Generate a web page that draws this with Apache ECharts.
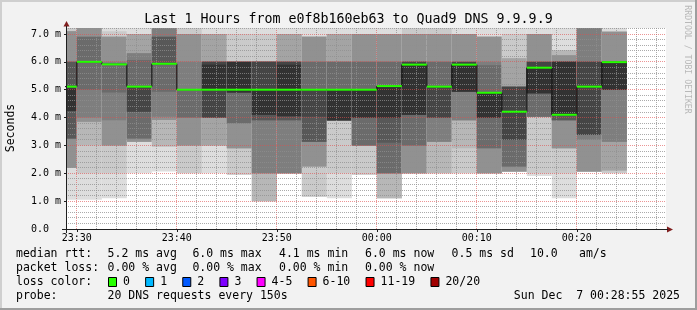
<!DOCTYPE html>
<html><head><meta charset="utf-8">
<script src="https://cdn.jsdelivr.net/npm/echarts@6/dist/echarts.min.js"></script>
<style>html,body{margin:0;padding:0;background:#f2f2f2}#c{width:697px;height:310px}</style>
</head><body><div id="c"></div>
<script>
// ---------------- data ----------------
const chartTitle = 'Last 1 Hours from e0f8b160eb63 to Quad9 DNS 9.9.9.9';
const viewStart = '23:28:55';
const viewEnd = '00:28:55';
const stepSeconds = 150;
const stepEnds = ['23:30:00','23:32:30','23:35:00','23:37:30','23:40:00','23:42:30','23:45:00','23:47:30',
  '23:50:00','23:52:30','23:55:00','23:57:30','00:00:00','00:02:30','00:05:00','00:07:30','00:10:00',
  '00:12:30','00:15:00','00:17:30','00:20:00','00:22:30','00:25:00'];
// median RTT per step (ms)
const medianRtt = [5.11, 6.0, 5.91, 5.11, 5.93, 5.0, 5.0, 5.0, 5.0, 5.0, 5.0, 5.0, 5.0,
  5.13, 5.9, 5.11, 5.9, 4.89, 4.21, 5.79, 4.10, 5.11, 5.99];
// packet loss per step (count of 20)
const stepLoss = [0,0,0,0,0,0,0,0,0,0,0,0,0,0,0,0,0,0,0,0,0,0,0];
// 20 sorted ping times per step (ms)
const stepPings = [
  [1.05,2.2,2.2,2.2,2.2,3.25,3.25,3.25,4.24,4.24,5.05,5.05,6.0,6.0,6.0,7.1,7.1,7.1,7.3,7.3],
  [1.05,2.0,3.0,3.85,3.85,4.0,5.0,6.0,6.0,6.0,6.0,6.0,6.0,6.9,6.9,7.3,7.3,7.3,7.3,7.3],
  [1.1,2.0,3.0,3.0,3.0,3.9,4.9,5.91,5.91,5.91,5.91,5.91,5.91,5.95,6.0,6.9,6.9,6.9,7.1,7.3],
  [2.0,3.13,3.13,3.13,3.13,3.25,3.25,4.21,4.21,5.11,5.11,5.11,5.11,6.07,6.31,6.31,7.0,7.0,7.0,7.3],
  [2.06,2.96,2.96,3.91,3.91,4.03,4.93,5.92,5.92,5.92,5.92,5.92,6.9,6.9,7.3,7.3,7.3,7.3,7.3,7.3],
  [2.0,2.0,3.0,3.0,3.0,4.0,4.0,5.0,5.0,5.0,5.0,5.0,5.0,5.0,6.0,7.0,7.0,7.0,7.3,7.3],
  [2.0,3.0,3.0,3.0,4.0,4.0,4.0,4.0,4.0,5.0,5.9,6.0,6.0,6.0,6.0,6.0,7.0,7.0,7.0,7.3],
  [1.95,1.95,2.9,2.9,2.9,3.8,3.8,4.9,4.9,4.9,6.0,6.0,6.0,6.0,6.0,6.0,6.0,6.0,7.0,7.3],
  [1.0,1.0,1.0,2.0,2.0,2.0,3.9,3.9,4.1,4.1,5.0,6.0,6.0,6.0,6.0,6.0,6.0,6.0,7.0,7.3],
  [2.0,2.0,2.0,2.0,2.0,2.0,3.9,3.9,4.05,4.05,5.9,6.0,6.0,6.0,6.0,6.0,7.0,7.0,7.0,7.3],
  [1.16,1.16,2.24,2.24,2.24,3.13,3.13,3.13,4.03,5.0,5.0,5.0,5.0,6.0,6.0,6.9,6.9,6.9,6.9,7.3],
  [1.1,2.0,3.9,3.9,3.9,3.9,3.9,3.9,3.9,3.9,5.0,5.0,5.0,6.0,6.0,6.0,7.0,7.0,7.0,7.3],
  [1.95,1.95,3.0,3.0,3.0,3.0,3.0,4.0,4.0,4.0,5.0,5.0,5.0,6.0,6.0,7.0,7.0,7.0,7.0,7.3],
  [1.1,1.1,1.1,2.0,2.0,2.0,2.0,3.1,4.0,4.0,5.13,5.13,5.13,6.0,6.0,7.0,7.0,7.0,7.0,7.3],
  [2.0,2.0,2.0,2.0,2.0,3.0,3.0,4.1,4.1,4.1,5.9,6.0,6.0,6.0,6.0,7.0,7.0,7.0,7.3,7.3],
  [2.0,2.0,2.0,3.13,3.13,3.13,4.0,4.0,4.0,5.1,5.1,5.1,5.1,6.0,6.0,7.0,7.0,7.0,7.3,7.3],
  [2.0,2.0,2.9,3.9,3.9,3.9,4.93,4.93,4.93,4.93,5.9,6.0,6.0,6.0,6.0,7.0,7.0,7.0,7.0,7.3],
  [2.0,2.0,2.0,2.0,2.0,2.9,2.9,4.0,4.0,4.0,4.89,4.89,4.89,5.88,6.0,6.9,6.9,6.9,6.9,7.3],
  [2.06,2.06,2.06,2.06,2.06,2.24,2.24,3.2,3.2,4.21,4.21,5.11,5.11,5.11,5.11,5.11,6.13,6.13,7.0,7.3],
  [1.9,2.0,4.03,4.03,4.03,4.03,4.03,4.87,4.87,4.87,5.8,6.0,6.0,6.0,6.0,7.0,7.0,7.0,7.0,7.3],
  [1.1,2.0,2.9,2.9,2.9,3.9,3.9,3.9,4.08,4.08,6.0,6.0,6.0,6.0,6.0,6.24,6.24,6.42,6.42,7.3],
  [2.06,2.06,2.06,2.06,2.06,3.2,3.37,3.37,3.37,5.1,5.1,6.0,6.0,6.0,7.3,7.3,7.3,7.3,7.3,7.3],
  [2.0,2.0,2.1,2.1,3.13,3.13,5.0,5.0,5.0,5.0,5.99,6.0,6.0,6.0,6.0,7.08,7.08,7.08,7.08,7.3]
];
const xTickLabels = ['23:30','23:40','23:50','00:00','00:10','00:20'];
const yTickValues = [0,1,2,3,4,5,6,7];
const yMax = 7.215;
const rttStatNames = ['avg','max','min','now'];
const rttStatValues = [5.2, 6.0, 4.1, 6.0];
const rttSd = 0.5;
const rttAms = 10.0;
const lossStatValues = [0.00, 0.00, 0.00, 0.00];
const lossLabels = ['0','1','2','3','4-5','6-10','11-19','20/20'];
const lossColors = ['#26ff00','#00b8ff','#0059ff','#7e00ff','#ff00ff','#ff5500','#ff0000','#a10000'];
const probeText = '20 DNS requests every 150s';
const dateText = 'Sun Dec  7 00:28:55 2025';

// ---------------- helpers ----------------
function toSec(s){ const p=s.split(':').map(Number); let t=p[0]*3600+p[1]*60+(p[2]||0); if(p[0]>=12) t-=86400; return t; }
function fmtTime(v){ let t=((v%86400)+86400)%86400; const h=Math.floor(t/3600), m=Math.floor((t%3600)/60); return String(h).padStart(2,'0')+':'+String(m).padStart(2,'0'); }
const xMin = toSec(viewStart), xMax = toSec(viewEnd);
const xTickValues = xTickLabels.map(toSec);
const MONO = '"DejaVu Sans Mono", monospace';

const smokeData = stepEnds.map((e,i)=>{ const end=toSec(e); return [end-stepSeconds, end].concat(stepPings[i]); });
const medianLine = [];
stepEnds.forEach((e,i)=>{ const end=toSec(e); medianLine.push([end-stepSeconds, medianRtt[i]]); medianLine.push([end, medianRtt[i]]); });
const medianSegs = stepEnds.map((e,i)=>{ const end=toSec(e); return [end-stepSeconds, end, medianRtt[i], stepLoss[i]]; });

// grid lines: [orientation(0=vertical,1=horizontal), value, major]
const gridData = [];
for (let t = xTickValues[0]; t < xMax; t += 120) gridData.push([0, t, xTickValues.includes(t) ? 1 : 0]);
for (let k = 1; k * 0.2 <= yMax; k++) { const v = +(k*0.2).toFixed(1); gridData.push([1, v, Number.isInteger(v) ? 1 : 0]); }

function smokeGray(k){ const c = Math.floor(190/10*(10-k))+50; const h=c.toString(16).padStart(2,'0'); return '#'+h+h+h; }

const chart = echarts.init(document.getElementById('c'), null, {renderer:'canvas'});

// legend graphics
const cw = 11.5*0.6035;
const g = [];
function txt(x,y,s,extra){ g.push(Object.assign({type:'text', x, y, silent:true, style:{text:s, x:0, y:0, fill:'#000', font:'11.5px '+MONO, align:'left', verticalAlign:'middle'}}, extra||{})); }
const statX = [107.6, 192.4, 279, 365];
txt(16, 254, 'median rtt:');
rttStatValues.forEach((v,i)=>txt(statX[i], 254, v.toFixed(1)+' ms '+rttStatNames[i]));
txt(451.6, 254, rttSd.toFixed(1)+' ms sd');
txt(530, 254, rttAms.toFixed(1));
txt(579, 254, 'am/s');
txt(16, 268, 'packet loss:');
lossStatValues.forEach((v,i)=>txt(statX[i], 268, v.toFixed(2)+' % '+rttStatNames[i]));
txt(16, 282, 'loss color:');
let lx = 108;
lossLabels.forEach((l,i)=>{
  g.push({type:'rect', silent:true, shape:{x:lx+0.5, y:277.5, width:8, height:9}, style:{fill:lossColors[i], stroke:'#000', lineWidth:1}});
  txt(lx+15, 282, l);
  lx += 15 + l.length*cw + 15.2;
});
txt(16, 296, 'probe:');
txt(107.6, 296, probeText);
g.push({type:'text', x:680, y:296, silent:true, style:{text:dateText, fill:'#000', font:'11.5px '+MONO, align:'right', verticalAlign:'middle'}});
// axis name & watermark
g.push({type:'text', x:11, y:128, rotation:Math.PI/2, silent:true, style:{text:'Seconds', fill:'#000', font:'11.5px '+MONO, align:'center', verticalAlign:'middle'}});
g.push({type:'text', x:687.5, y:59.5, rotation:-Math.PI/2, silent:true, style:{text:'RRDTOOL / TOBI OETIKER', fill:'#b8b8b8', font:'8.2px '+MONO, align:'center', verticalAlign:'middle'}});
// arrows
g.push({type:'polygon', silent:true, z:20, shape:{points:[[63.5,26.5],[69.5,26.5],[66.5,21]]}, style:{fill:'#801f1f'}});
g.push({type:'polygon', silent:true, z:20, shape:{points:[[667,226.5],[667,232.5],[673,229.5]]}, style:{fill:'#801f1f'}});
g.push({type:'line', silent:true, z:20, shape:{x1:66.5, y1:26, x2:66.5, y2:233}, style:{stroke:'#1f1f1f', lineWidth:1}});
g.push({type:'line', silent:true, z:20, shape:{x1:62, y1:229.5, x2:668, y2:229.5}, style:{stroke:'#1f1f1f', lineWidth:1}});
// frame
g.push({type:'rect', silent:true, shape:{x:0,y:0,width:697,height:2}, style:{fill:'#cfcfcf'}});
g.push({type:'rect', silent:true, shape:{x:0,y:0,width:2,height:310}, style:{fill:'#cfcfcf'}});
g.push({type:'rect', silent:true, shape:{x:0,y:308,width:697,height:2}, style:{fill:'#9e9e9e'}});
g.push({type:'rect', silent:true, shape:{x:695,y:0,width:2,height:310}, style:{fill:'#9e9e9e'}});

const option = {
  animation: false,
  backgroundColor: '#f2f2f2',
  title: { text: chartTitle, left: 'center', top: 12, padding: 0,
    textStyle: { fontFamily: MONO, fontSize: 13.3, fontWeight: 'normal', color: '#000', lineHeight: 15 } },
  grid: { left: 66, right: 31, top: 28, bottom: 81, show: true, backgroundColor: '#ffffff', borderWidth: 0 },
  xAxis: { type: 'value', min: xMin, max: xMax, z: 6,
    axisLine: { show: true, onZero: false, lineStyle: { color: '#1f1f1f', width: 1 } },
    axisTick: { show: true, length: 3, customValues: xTickValues, lineStyle: { color: '#1f1f1f' } },
    axisLabel: { customValues: xTickValues, formatter: v => fmtTime(v), margin: 4,
      fontFamily: MONO, fontSize: 10, color: '#000' },
    splitLine: { show: false } },
  yAxis: { type: 'value', min: 0, max: yMax, interval: 1, z: 6,
    axisLine: { show: true, onZero: false, lineStyle: { color: '#1f1f1f', width: 1 } },
    axisTick: { show: true, length: 2, customValues: yTickValues, lineStyle: { color: '#1f1f1f' } },
    axisLabel: { customValues: yTickValues, formatter: v => v === 0 ? '0.0  ' : v.toFixed(1) + ' m',
      margin: 5, fontFamily: MONO, fontSize: 10, color: '#000' },
    splitLine: { show: false } },
  graphic: { elements: g },
  series: [
    { type: 'custom', name: 'smoke', clip: true, z: 2, silent: true, data: smokeData,
      renderItem(params, api) {
        const s = api.value(0), e = api.value(1);
        const children = [];
        for (let k = 1; k <= 10; k++) {
          const lo = api.value(1 + k), hi = api.value(22 - k);
          if (hi <= lo) continue;
          const p0 = api.coord([s, hi]), p1 = api.coord([e, lo]);
          children.push({ type: 'rect', shape: { x: p0[0], y: p0[1], width: p1[0] - p0[0], height: p1[1] - p0[1] },
            style: { fill: smokeGray(k) } });
        }
        return { type: 'group', children };
      } },
    { type: 'custom', name: 'grid', z: 3, silent: true, data: gridData,
      renderItem(params, api) {
        const cs = params.coordSys;
        const o = api.value(0), v = api.value(1), major = api.value(2);
        let shape;
        if (o === 0) { const x = Math.floor(api.coord([v, 0])[0] + 0.1) + 0.5; shape = { x1: x, y1: cs.y, x2: x, y2: cs.y + cs.height }; }
        else { const y = Math.floor(api.coord([xMin, v])[1] + 0.1) + 0.5; shape = { x1: cs.x, y1: y, x2: cs.x + cs.width, y2: y }; }
        return { type: 'line', shape, style: { stroke: major ? 'rgba(222,79,79,0.6)' : 'rgba(143,143,143,0.75)', lineWidth: 1, lineDash: [1, 1] } };
      } },
    { type: 'line', name: 'median', z: 4, silent: true, data: medianLine, symbol: 'none',
      lineStyle: { color: '#000', width: 1 }, clip: true },
    { type: 'custom', name: 'median-loss', clip: true, z: 5, silent: true, data: medianSegs,
      renderItem(params, api) {
        const a = api.coord([api.value(0), api.value(2)]), b = api.coord([api.value(1), api.value(2)]);
        return { type: 'line', shape: { x1: a[0], y1: a[1], x2: b[0], y2: b[1] },
          style: { stroke: lossColors[api.value(3)], lineWidth: 2 } };
      } }
  ]
};
chart.setOption(option);
</script></body></html>
